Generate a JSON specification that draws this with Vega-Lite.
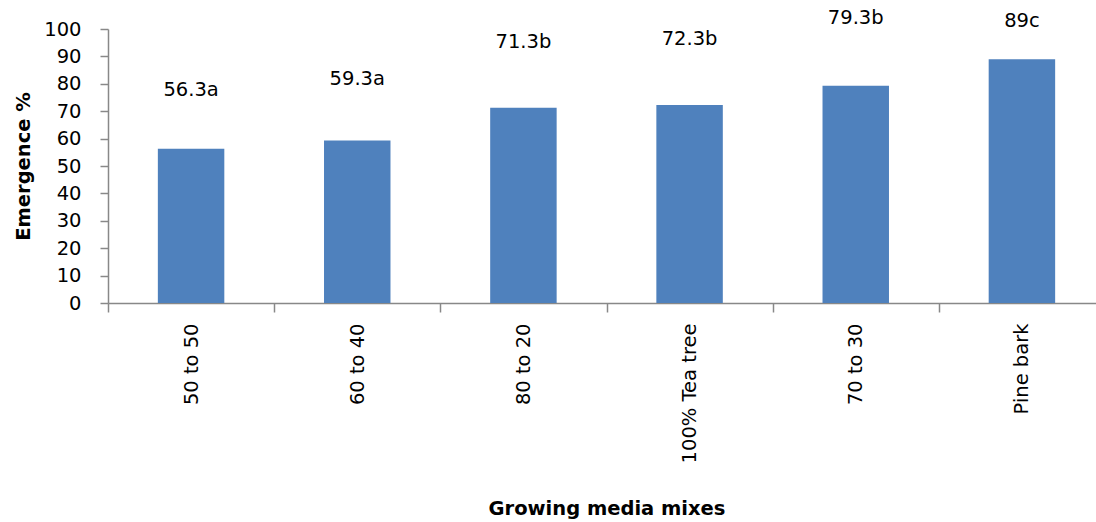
{
  "$schema": "https://vega.github.io/schema/vega-lite/v6.json",
  "autosize": "none",
  "width": 997,
  "height": 274,
  "padding": {"left": 108, "top": 29, "right": 0, "bottom": 219},
  "background": "white",
  "config": {"view": {"stroke": null}, "font": "DejaVu Sans"},
  "data": {"values": [
    {"mix": "50 to 50", "emergence": 56.3, "label": "56.3a", "labelPos": 77.7},
    {"mix": "60 to 40", "emergence": 59.3, "label": "59.3a", "labelPos": 81.8},
    {"mix": "80 to 20", "emergence": 71.3, "label": "71.3b", "labelPos": 95.3},
    {"mix": "100% Tea  tree", "emergence": 72.3, "label": "72.3b", "labelPos": 96.4},
    {"mix": "70 to 30", "emergence": 79.3, "label": "79.3b", "labelPos": 104.0},
    {"mix": "Pine bark", "emergence": 89, "label": "89c", "labelPos": 102.9}
  ]},
  "encoding": {
    "x": {"field": "mix", "type": "nominal", "sort": null,
      "scale": {"paddingInner": 0.6, "paddingOuter": 0.3},
      "axis": {"title": "Growing media mixes", "titleFont": "DejaVu Sans", "titleFontSize": 19.5, "titleFontWeight": "bold", "titleColor": "black", "titlePadding": 30,
        "labelAngle": -90, "labelAlign": "right", "labelBaseline": "middle", "labelFontSize": 19.5, "labelColor": "black", "labelPadding": 11, "labelOverlap": false,
        "tickOffset": -83.08, "labelOffset": 83.08, "tickSize": 9, "tickColor": "#888888", "domainColor": "#888888", "domainWidth": 1.5, "tickWidth": 1.5, "labelFont": "DejaVu Sans"}}
  },
  "layer": [
    {"mark": {"type": "bar", "color": "#4f81bd"},
     "encoding": {"y": {"field": "emergence", "type": "quantitative",
       "scale": {"domain": [0, 100], "nice": false},
       "axis": {"title": "Emergence %", "titleFont": "DejaVu Sans", "titleFontSize": 19.5, "titleFontWeight": "bold", "titleColor": "black", "titlePadding": 10,
         "values": [0,10,20,30,40,50,60,70,80,90,100], "tickCount": 11, "labelOverlap": false, "grid": false, "labelFontSize": 19.5, "labelColor": "black", "labelFont": "DejaVu Sans", "labelPadding": 19,
         "tickSize": 8, "tickColor": "#888888", "domainColor": "#888888", "domainWidth": 1.5, "tickWidth": 1.5}}}},
    {"mark": {"type": "text", "fontSize": 19.5, "font": "DejaVu Sans", "color": "black", "baseline": "middle", "clip": false},
     "encoding": {"y": {"field": "labelPos", "type": "quantitative", "scale": {"domain": [0, 100], "nice": false},
       "axis": {"title": "Emergence %", "titleFont": "DejaVu Sans", "titleFontSize": 19.5, "titleFontWeight": "bold", "titleColor": "black", "titlePadding": 10,
         "values": [0,10,20,30,40,50,60,70,80,90,100], "tickCount": 11, "labelOverlap": false, "grid": false, "labelFontSize": 19.5, "labelColor": "black", "labelFont": "DejaVu Sans", "labelPadding": 19,
         "tickSize": 8, "tickColor": "#888888", "domainColor": "#888888", "domainWidth": 1.5, "tickWidth": 1.5}}, "text": {"field": "label"}}}
  ]
}
